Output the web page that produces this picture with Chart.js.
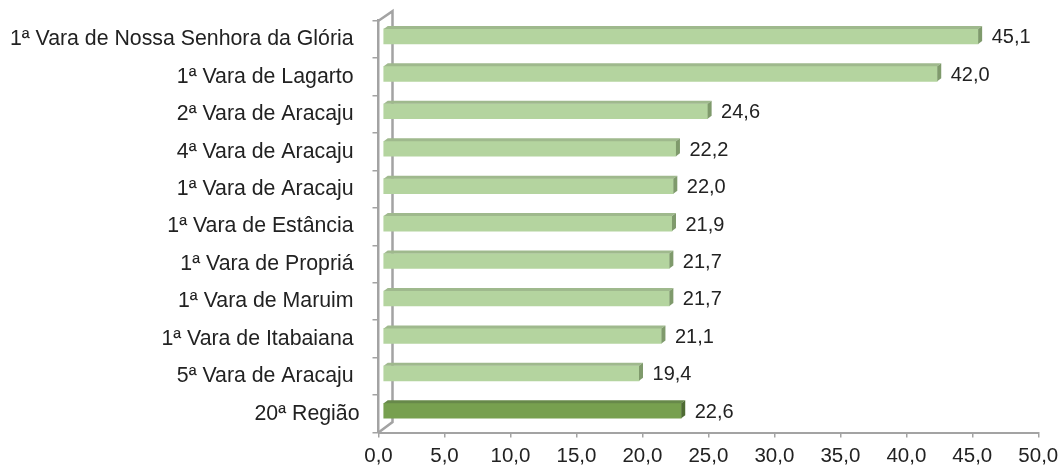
<!DOCTYPE html>
<html lang="pt-BR">
<head>
    <meta charset="UTF-8">
    <title>Varas - 20ª Região</title>
    <script src="https://cdn.jsdelivr.net/npm/chart.js"></script>
    <style>
        html, body { margin: 0; padding: 0; background: #fff; }
        #wrap { width: 1061px; height: 468px; }
    </style>
</head>
<body>
    <div id="wrap"><canvas id="varas-chart"></canvas></div>

    <script>
        const categories = [
            '1ª Vara de Nossa Senhora da Glória ',
            '1ª Vara de Lagarto ',
            '2ª Vara de Aracaju ',
            '4ª Vara de Aracaju ',
            '1ª Vara de Aracaju ',
            '1ª Vara de Estância ',
            '1ª Vara de Propriá ',
            '1ª Vara de Maruim ',
            '1ª Vara de Itabaiana ',
            '5ª Vara de Aracaju ',
            '20ª Região'
        ];
        const values = [45.1, 42.0, 24.6, 22.2, 22.0, 21.9, 21.7, 21.7, 21.1, 19.4, 22.6];
        const xTicks = [0, 5, 10, 15, 20, 25, 30, 35, 40, 45, 50];

        // colours: regular bars, last bar (region total) darker
        const faceColors = values.map((v, i) => i === values.length - 1 ? '#77a04f' : '#b4d49f');
        const topColors = values.map((v, i) => i === values.length - 1 ? '#67894a' : '#9fb98d');
        const sideColors = values.map((v, i) => i === values.length - 1 ? '#4e6b33' : '#7f9a6c');

        const FONT = '"Liberation Sans", Arial, sans-serif';
        const fmt = v => v.toFixed(1).replace('.', ',');

        // bar offset from the front plane and depth of the 3D faces
        const DX = 4.5, DY = -3;
        const DEPTH_X = 4, DEPTH_Y = 3;
        // side wall depth
        const WALL_X = 14, WALL_Y = 9.5;

        const threeD = {
            id: 'threeD',
            beforeDatasetsDraw(chart) {
                const ctx = chart.ctx;
                const { left, top, bottom } = chart.chartArea;
                // back edge of the side wall and its slanted joints
                ctx.save();
                ctx.strokeStyle = '#a3a3a3';
                ctx.lineWidth = 2.5;
                ctx.beginPath();
                ctx.moveTo(left, top);
                ctx.lineTo(left + WALL_X, top - WALL_Y);
                ctx.lineTo(left + WALL_X, bottom - WALL_Y - 1);
                ctx.lineTo(left, bottom);
                ctx.stroke();
                ctx.restore();

                ctx.save();
                ctx.translate(DX, DY);
            },
            afterDatasetsDraw(chart) {
                const ctx = chart.ctx;
                const meta = chart.getDatasetMeta(0);
                meta.data.forEach((bar, i) => {
                    const p = bar.getProps(['x', 'y', 'base', 'height'], true);
                    const t = p.y - p.height / 2, b = p.y + p.height / 2;
                    // top face
                    ctx.fillStyle = topColors[i];
                    ctx.beginPath();
                    ctx.moveTo(p.base, t);
                    ctx.lineTo(p.x, t);
                    ctx.lineTo(p.x + DEPTH_X, t - DEPTH_Y);
                    ctx.lineTo(p.base + DEPTH_X, t - DEPTH_Y);
                    ctx.closePath();
                    ctx.fill();
                    // right end face
                    ctx.fillStyle = sideColors[i];
                    ctx.beginPath();
                    ctx.moveTo(p.x, t);
                    ctx.lineTo(p.x + DEPTH_X, t - DEPTH_Y);
                    ctx.lineTo(p.x + DEPTH_X, b - DEPTH_Y);
                    ctx.lineTo(p.x, b);
                    ctx.closePath();
                    ctx.fill();
                });
                ctx.restore();

                // value labels
                ctx.save();
                ctx.fillStyle = '#222';
                ctx.font = '20px ' + FONT;
                ctx.textAlign = 'left';
                ctx.textBaseline = 'middle';
                meta.data.forEach((bar, i) => {
                    const p = bar.getProps(['x', 'y'], true);
                    ctx.fillText(fmt(values[i]), p.x + DX + 13.5, p.y + DY + 1.5);
                });
                ctx.restore();
            }
        };

        new Chart(document.getElementById('varas-chart'), {
            type: 'bar',
            data: {
                labels: categories,
                datasets: [{
                    data: values,
                    backgroundColor: faceColors,
                    borderWidth: 0,
                    barThickness: 15
                }]
            },
            options: {
                indexAxis: 'y',
                responsive: true,
                maintainAspectRatio: false,
                animation: false,
                layout: { padding: { top: 20.7, right: 22.7, bottom: 0, left: 0 } },
                plugins: {
                    legend: { display: false },
                    tooltip: { enabled: false }
                },
                scales: {
                    x: {
                        min: 0,
                        max: 50,
                        afterBuildTicks(scale) {
                            scale.ticks = xTicks.map(v => ({ value: v }));
                        },
                        afterFit(scale) {
                            scale.height = 35.5;
                            scale.paddingLeft = 0;
                            scale.paddingRight = 0;
                        },
                        grid: {
                            drawOnChartArea: false,
                            color: '#a3a3a3',
                            lineWidth: 1.5,
                            tickLength: 5
                        },
                        border: { display: true, color: '#a3a3a3', width: 2 },
                        ticks: {
                            padding: 7,
                            color: '#222',
                            font: { family: FONT, size: 20.5 },
                            callback: v => fmt(v)
                        }
                    },
                    y: {
                        afterFit(scale) {
                            scale.width = 378.5;
                            scale.paddingTop = 0;
                            scale.paddingBottom = 0;
                        },
                        grid: {
                            drawOnChartArea: false,
                            color: '#a3a3a3',
                            lineWidth: 1.5,
                            tickLength: 6
                        },
                        border: { display: true, color: '#a3a3a3', width: 2.5 },
                        ticks: {
                            padding: 13,
                            color: '#222',
                            font: { family: FONT, size: 21.3 }
                        }
                    }
                }
            },
            plugins: [threeD]
        });
    </script>
</body>
</html>
